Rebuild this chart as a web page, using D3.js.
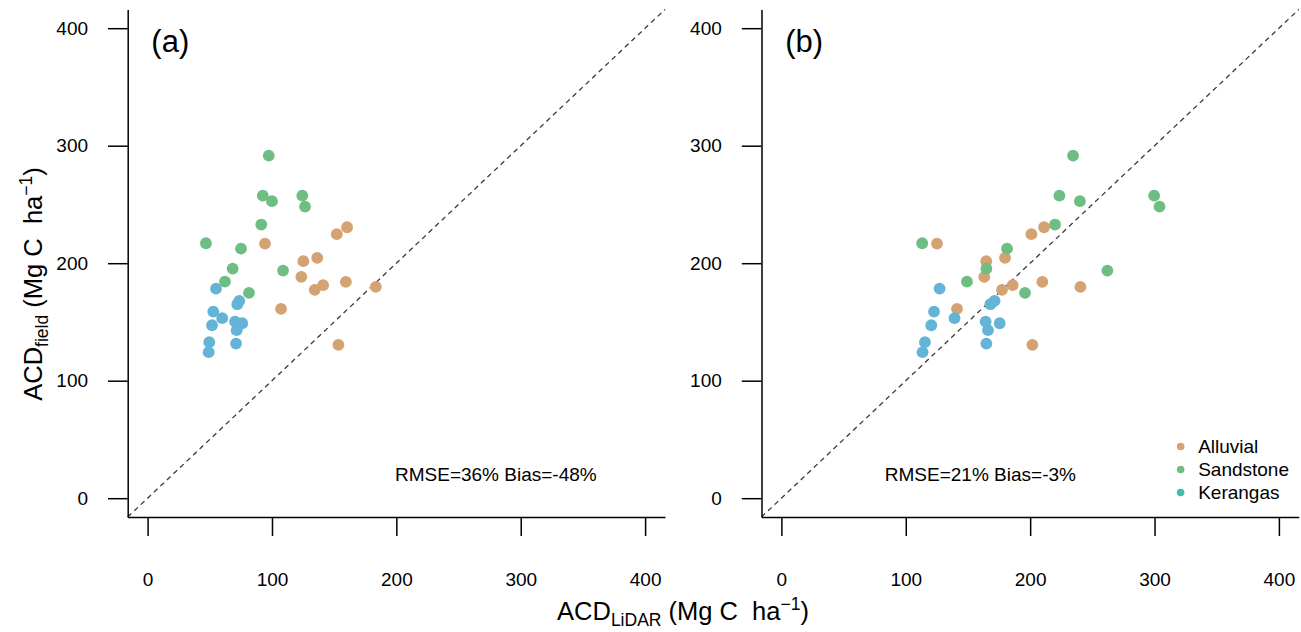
<!DOCTYPE html>
<html>
<head>
<meta charset="utf-8">
<script src="https://cdn.jsdelivr.net/npm/d3@7"></script>
<style>
  body { margin: 0; background: #fff; }
  svg { font-family: "Liberation Sans", Arial, sans-serif; }
  .lbl { white-space: pre; }
</style>
</head>
<body>
<svg id="chart" width="1301" height="632"></svg>
<script>
// soil types and legend
const soilTypes = ["Alluvial", "Sandstone", "Kerangas"];
const ticks = [0, 100, 200, 300, 400];

// field ACD (y) for each plot, per soil type
const fieldAlluvial = [216.7, 230.6, 224.7, 204.5, 201.7, 188.3, 184.1, 181.3, 177.3, 179.8, 161.1, 130.5];
const fieldSandstone = [291.6, 257.5, 252.8, 257.5, 248.2, 232.9, 217.0, 212.4, 195.4, 193.7, 184.3, 174.7];
const fieldKerangas = [178.4, 167.9, 165.1, 158.8, 153.2, 147.2, 150.3, 148.9, 143.0, 132.8, 131.6, 124.3];

// LiDAR ACD, panel (a)
const lidarA_Alluvial = [94.4, 160.4, 152.1, 136.4, 125.2, 123.6, 159.4, 141.1, 134.4, 183.5, 107.3, 153.4];
const lidarA_Sandstone = [97.4, 92.6, 100.0, 124.4, 126.6, 91.4, 46.9, 75.1, 68.4, 108.9, 62.2, 81.5];
const lidarA_Kerangas = [55.0, 73.7, 72.1, 52.8, 60.0, 51.8, 70.3, 76.1, 71.6, 49.6, 71.1, 49.1];

// LiDAR ACD, panel (b)
const lidarB_Alluvial = [125.1, 211.2, 201.0, 179.8, 164.7, 163.1, 209.8, 185.9, 177.4, 240.4, 141.2, 201.8];
const lidarB_Sandstone = [234.5, 223.5, 240.0, 299.7, 304.0, 220.0, 113.2, 181.4, 164.8, 262.1, 149.2, 195.9];
const lidarB_Kerangas = [127.2, 171.4, 168.0, 122.7, 139.2, 120.5, 164.2, 175.5, 166.1, 115.4, 164.8, 113.5];

const statsA = "RMSE=36% Bias=-48%";
const statsB = "RMSE=21% Bias=-3%";

const pointColor = { Alluvial: "#d4a273", Sandstone: "#6ebd82", Kerangas: "#64b4d8" };
const legendColor = { Alluvial: "#d4a273", Sandstone: "#6ebd82", Kerangas: "#3bbfb4" };

function pairs(xs, ys, type) {
  return xs.map((x, i) => ({ x: x, y: ys[i], type: type }));
}

const panels = [
  {
    tag: "(a)", stats: statsA, statsX: 280, left: 127.7, legend: false,
    data: [].concat(
      pairs(lidarA_Alluvial, fieldAlluvial, "Alluvial"),
      pairs(lidarA_Sandstone, fieldSandstone, "Sandstone"),
      pairs(lidarA_Kerangas, fieldKerangas, "Kerangas"))
  },
  {
    tag: "(b)", stats: statsB, statsX: 160, left: 761.5, legend: true,
    data: [].concat(
      pairs(lidarB_Alluvial, fieldAlluvial, "Alluvial"),
      pairs(lidarB_Sandstone, fieldSandstone, "Sandstone"),
      pairs(lidarB_Kerangas, fieldKerangas, "Kerangas"))
  }
];

const svg = d3.select("#chart");
const plotW = 537.3, plotTop = 9.4, plotBottom = 517;
const domain = [-16, 416];

panels.forEach(p => {
  const x = d3.scaleLinear().domain(domain).range([p.left, p.left + plotW]);
  const y = d3.scaleLinear().domain(domain).range([plotBottom, plotTop]);
  const g = svg.append("g");

  // 1:1 line
  g.append("line")
    .attr("x1", x(domain[0])).attr("y1", y(domain[0]))
    .attr("x2", x(domain[1])).attr("y2", y(domain[1]))
    .attr("stroke", "#3a3a3a").attr("stroke-width", 1.3)
    .attr("stroke-dasharray", "5,4");

  g.selectAll("circle.pt").data(p.data).enter().append("circle")
    .attr("class", "pt")
    .attr("cx", d => x(d.x)).attr("cy", d => y(d.y))
    .attr("r", 5.9)
    .attr("fill", d => pointColor[d.type]);

  const xAxis = g.append("g").attr("transform", `translate(0,${plotBottom})`)
    .call(d3.axisBottom(x).tickValues(ticks).tickSize(19).tickSizeOuter(0).tickPadding(37));
  const yAxis = g.append("g").attr("transform", `translate(${p.left},0)`)
    .call(d3.axisLeft(y).tickValues(ticks).tickSize(19.7).tickSizeOuter(0).tickPadding(20));

  [xAxis, yAxis].forEach(a => {
    a.select(".domain").attr("stroke", "#000").attr("stroke-width", 1.5);
    a.selectAll(".tick line").attr("stroke", "#000").attr("stroke-width", 1.5);
    a.selectAll(".tick text").attr("fill", "#000")
      .style("font-size", "19px").style("font-family", "'Liberation Sans', Arial, sans-serif");
  });

  g.append("text")
    .attr("x", x(3)).attr("y", y(380))
    .style("font-size", "31px")
    .text(p.tag);

  g.append("text")
    .attr("x", x(p.statsX)).attr("y", y(20)).attr("dy", "0.35em")
    .attr("text-anchor", "middle")
    .style("font-size", "19px")
    .text(p.stats);

  if (p.legend) {
    const lg = g.append("g").attr("transform", `translate(${x(321)},${y(44)})`);
    soilTypes.forEach((s, i) => {
      lg.append("circle").attr("cx", 0).attr("cy", i * 23).attr("r", 3.8)
        .attr("fill", legendColor[s]);
      lg.append("text").attr("x", 17.5).attr("y", i * 23).attr("dy", "0.35em")
        .style("font-size", "19px").text(s);
    });
  }
});

// axis titles
const xt = svg.append("text").attr("class", "lbl")
  .attr("x", 683).attr("y", 620).attr("text-anchor", "middle")
  .style("font-size", "25.5px");
xt.append("tspan").text("ACD");
xt.append("tspan").attr("dy", 6).style("font-size", "17.5px").text("LiDAR");
xt.append("tspan").attr("dy", -6).text(" (Mg C  ha");
xt.append("tspan").attr("dy", -10).style("font-size", "17.5px").text("\u22121");
xt.append("tspan").attr("dy", 10).text(")");

const yt = svg.append("text").attr("class", "lbl")
  .attr("transform", "translate(41.7,284) rotate(-90)")
  .attr("text-anchor", "middle")
  .style("font-size", "25.5px");
yt.append("tspan").text("ACD");
yt.append("tspan").attr("dy", 6).style("font-size", "17.5px").text("field");
yt.append("tspan").attr("dy", -6).text(" (Mg C  ha");
yt.append("tspan").attr("dy", -10).style("font-size", "17.5px").text("\u22121");
yt.append("tspan").attr("dy", 10).text(")");
</script>
</body>
</html>
